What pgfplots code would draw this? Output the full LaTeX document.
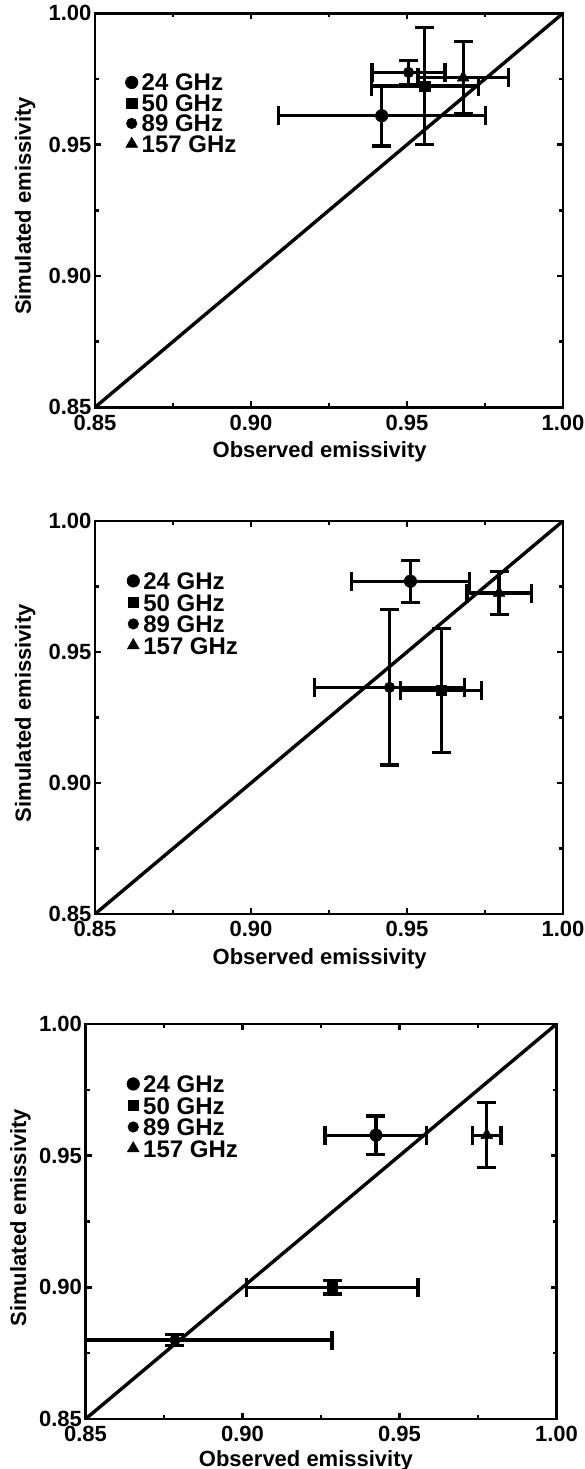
\documentclass[border=0pt]{standalone}
\usepackage{fontspec}
\setmainfont{Liberation Sans}
\usepackage{pgfplots}
\pgfplotsset{compat=1.18}

\pgfplotsset{
 emis/.style={
  scale only axis, width=468pt, height=394pt,
  xmin=0.85,xmax=1,ymin=0.85,ymax=1,
  xtick={0.85,0.9,0.95,1}, ytick={0.85,0.9,0.95,1},
  minor x tick num=1, minor y tick num=1,
  tick align=inside, major tick length=6pt, minor tick length=4pt,
  every tick/.style={line width=2.4pt, black},
  axis line style={line width=2.8pt},
  /pgf/number format/fixed, /pgf/number format/fixed zerofill,
  /pgf/number format/precision=2, /pgf/number format/assume math mode=true,
  ticklabel style={font=\fontsize{22}{24}\selectfont\bfseries},
  xticklabel style={yshift=-4pt},
  label style={font=\fontsize{22}{24}\selectfont\bfseries},
  xlabel={Observed emissivity}, ylabel={Simulated emissivity},
  ylabel style={anchor=base},
  xlabel style={anchor=base},
  legend cell align=left,
  legend image code/.code={\draw[##1] plot coordinates {(0pt,0pt)};},
  legend style={draw=none, fill=none, inner sep=0pt, outer sep=0pt, anchor=north west,
    font=\fontsize{24}{20}\selectfont\bfseries, row sep=0pt, column sep=3.7pt},
 },
 eb/.style={only marks, black, mark options={fill=black, draw=black, line width=0.5pt},
   error bars/x dir=both, error bars/x explicit, error bars/y dir=both, error bars/y explicit,
   error bars/error bar style={line width=3.2pt, black},
   error bars/error mark options={rotate=90, mark size=9.5pt, line width=3.2pt, black}},
 diag/.style={line width=3.4pt, black, no marks, forget plot},
 m24/.style={eb, mark=*, mark size=6.3pt},
 m50/.style={eb, mark=square*, mark size=5.2pt},
 m89/.style={eb, mark=*, mark size=5.3pt},
 m157/.style={eb, mark=triangle*, mark size=6.8pt},
}

\begin{document}
\begin{tikzpicture}
% ---------- panel 1
\begin{axis}[emis, at={(95pt,-407.3pt)}, anchor=south west,
  xlabel style={at={(axis description cs:0.48,0)}, yshift=-50pt},
  ylabel style={at={(axis description cs:-0.1368,0.511)}},
  legend style={at={(rel axis cs:0.065,0.8505)},
    nodes={inner sep=0pt, text height=18.5pt, text depth=2pt}}]
\addplot[diag] coordinates {(0.85,0.85) (1,1)};
\addplot[m24] table[x=x,y=y,x error=ex,y error=ey] {
x y ex ey
0.9419 0.9610 0.0332 0.0115
};
\addplot[m50] table[x=x,y=y,x error=ex,y error=ey] {
x y ex ey
0.9557 0.9723 0.0172 0.0223
};
\addplot[m89] table[x=x,y=y,x error=ex,y error=ey] {
x y ex ey
0.9505 0.9775 0.0117 0.0045
};
\addplot[m157] table[x=x,y=y,x error=ex,y error=ey] {
x y ex ey
0.9680 0.9755 0.0145 0.0138
};
\legend{24 GHz,50 GHz,89 GHz,157 GHz}
\end{axis}
% ---------- panel 2
\begin{axis}[emis, height=393pt, at={(95pt,-914pt)}, anchor=south west,
  xlabel style={at={(axis description cs:0.48,0)}, yshift=-50pt},
  ylabel style={at={(axis description cs:-0.1368,0.511)}},
  legend style={at={(rel axis cs:0.0684,0.875)},
    nodes={inner sep=0pt, text height=19.5pt, text depth=2pt}}]
\addplot[diag] coordinates {(0.85,0.85) (1,1)};
\addplot[m24] table[x=x,y=y,x error=ex,y error=ey] {
x y ex ey
0.9511 0.9770 0.0190 0.0080
};
\addplot[m50] table[x=x,y=y,x error=ex,y error=ey] {
x y ex ey
0.9610 0.9353 0.0130 0.0238
};
\addplot[m89] table[x=x,y=y,x error=ex,y error=ey] {
x y ex ey
0.9444 0.9365 0.0241 0.0296
};
\addplot[m157] table[x=x,y=y,x error=ex,y error=ey] {
x y ex ey
0.9795 0.9725 0.0103 0.0083
};
\legend{24 GHz,50 GHz,89 GHz,157 GHz}
\end{axis}
% ---------- panel 3
\begin{axis}[emis, width=471pt, height=395pt, at={(85.5pt,-1419pt)}, anchor=south west,
  xlabel style={at={(axis description cs:0.468,0)}, yshift=-47pt},
  ylabel style={at={(axis description cs:-0.1263,0.51)}},
  legend style={at={(rel axis cs:0.088,0.8754)},
    nodes={inner sep=0pt, text height=19.5pt, text depth=2pt}}]
\addplot[diag] coordinates {(0.85,0.85) (1,1)};
\addplot[m24] table[x=x,y=y,x error=ex,y error=ey] {
x y ex ey
0.9425 0.9578 0.0162 0.0073
};
\addplot[m50] table[x=x,y=y,x error=ex,y error=ey] {
x y ex ey
0.9286 0.9000 0.0273 0.0025
};
\addplot[m89] table[x=x,y=y,x error=ex,y error=ey] {
x y ex ey
0.8785 0.8800 0.0500 0.0020
};
\addplot[m157] table[x=x,y=y,x error=ex,y error=ey] {
x y ex ey
0.9778 0.9578 0.0045 0.0123
};
\legend{24 GHz,50 GHz,89 GHz,157 GHz}
\end{axis}
\pgfresetboundingbox
\path[use as bounding box] (0pt,0pt) rectangle (584pt,-1469pt);
\end{tikzpicture}
\end{document}
